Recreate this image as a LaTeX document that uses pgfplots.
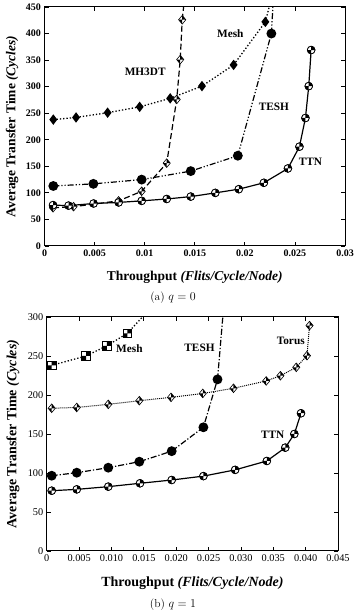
\documentclass[border=0pt]{standalone}
\usepackage{pgfplots}
\pgfplotsset{compat=1.18}
\usepackage{fontspec}
\newfontfamily\tnr{Liberation Serif}

\pgfdeclareplotmark{qcircle}{%
  \pgfpathcircle{\pgfpointorigin}{\pgfplotmarksize}%
  \pgfsetfillcolor{white}\pgfusepathqfillstroke
  \pgfpathmoveto{\pgfpointorigin}\pgfpathlineto{\pgfqpoint{\pgfplotmarksize}{0pt}}%
  \pgfpatharc{0}{90}{\pgfplotmarksize}\pgfpathclose
  \pgfpathmoveto{\pgfpointorigin}\pgfpathlineto{\pgfqpoint{-\pgfplotmarksize}{0pt}}%
  \pgfpatharc{180}{270}{\pgfplotmarksize}\pgfpathclose
  \pgfsetfillcolor{black}\pgfusepathqfill
  \pgfpathcircle{\pgfpointorigin}{\pgfplotmarksize}\pgfusepathqstroke
}
\pgfdeclareplotmark{qsquare}{%
  \pgfpathrectangle{\pgfqpoint{-\pgfplotmarksize}{-\pgfplotmarksize}}{\pgfqpoint{2\pgfplotmarksize}{2\pgfplotmarksize}}%
  \pgfsetfillcolor{white}\pgfusepathqfillstroke
  \pgfpathrectangle{\pgfpointorigin}{\pgfqpoint{\pgfplotmarksize}{\pgfplotmarksize}}%
  \pgfpathrectangle{\pgfqpoint{-\pgfplotmarksize}{-\pgfplotmarksize}}{\pgfqpoint{\pgfplotmarksize}{\pgfplotmarksize}}%
  \pgfsetfillcolor{black}\pgfusepathqfill
  \pgfpathrectangle{\pgfqpoint{-\pgfplotmarksize}{-\pgfplotmarksize}}{\pgfqpoint{2\pgfplotmarksize}{2\pgfplotmarksize}}%
  \pgfusepathqstroke
}
\pgfdeclareplotmark{qdiamond}{%
  \pgfpathmoveto{\pgfqpoint{0pt}{1.2\pgfplotmarksize}}%
  \pgfpathlineto{\pgfqpoint{\pgfplotmarksize}{0pt}}%
  \pgfpathlineto{\pgfqpoint{0pt}{-1.2\pgfplotmarksize}}%
  \pgfpathlineto{\pgfqpoint{-\pgfplotmarksize}{0pt}}\pgfpathclose
  \pgfsetfillcolor{white}\pgfusepathqfillstroke
  \pgfpathmoveto{\pgfpointorigin}\pgfpathlineto{\pgfqpoint{\pgfplotmarksize}{0pt}}%
  \pgfpathlineto{\pgfqpoint{0pt}{1.2\pgfplotmarksize}}\pgfpathclose
  \pgfpathmoveto{\pgfpointorigin}\pgfpathlineto{\pgfqpoint{-\pgfplotmarksize}{0pt}}%
  \pgfpathlineto{\pgfqpoint{0pt}{-1.2\pgfplotmarksize}}\pgfpathclose
  \pgfsetfillcolor{black}\pgfusepathqfill
}

\pgfplotsset{
  common/.style={
    scale only axis, anchor=south west, clip=true,
    tick align=inside, scaled x ticks=false,
    axis line style={line width=1pt},
    every tick/.style={black, line width=0.8pt},
    major tick length=4pt,
    ylabel={\textbf{Average Transfer Time} \textbf{\textit{(Cycles)}}},
    xlabel={\textbf{Throughput} \textbf{\textit{(Flits/Cycle/Node)}}},
  },
}
\tikzset{lab/.style={font=\tnr\bfseries\fontsize{11.3}{12}\selectfont, inner sep=0pt}}

\begin{document}
\begin{tikzpicture}
\begin{axis}[common,
  at={(44.5pt,366pt)}, width=300.5pt, height=239pt,
  xmin=0, xmax=0.03, ymin=0, ymax=450,
  xtick={0,0.005,0.01,0.015,0.02,0.025,0.03},
  xticklabels={0,0.005,0.01,0.015,0.02,0.025,0.03},
  ytick={0,50,100,150,200,250,300,350,400,450},
  yticklabels={0,50,100,150,200,250,300,350,400,450},
  tick label style={font=\tnr\bfseries\fontsize{10}{10}\selectfont},
  label style={font=\tnr\fontsize{13.5}{14}\selectfont},
  xlabel style={at={(axis description cs:0.5,-0.13)}, anchor=center},
  ylabel style={at={(axis description cs:-0.108,0.5)}, anchor=center},
]
% Mesh
\addplot[black, line width=1.3pt, dotted, mark=diamond*, mark size=4.2pt, mark options={solid, fill=black}]
 coordinates {(0.00088,238) (0.00315,242) (0.0063,251) (0.0095,262) (0.01255,278) (0.01572,301) (0.01888,341) (0.02205,422)};
\addplot[black, line width=1.3pt, dotted, forget plot] coordinates {(0.02205,422) (0.0227,470)};
% MH3DT
\addplot[black, line width=1.2pt, dash pattern=on 6pt off 3pt, mark=qdiamond, mark size=3.6pt, mark options={solid, line width=0.6pt}]
 coordinates {(0.00085,72) (0.0029,74) (0.0074,85) (0.0097,103) (0.0122,156) (0.0132,276) (0.01355,351) (0.01375,426)};
\addplot[black, line width=1.2pt, dash pattern=on 6pt off 3pt, forget plot] coordinates {(0.01375,426) (0.0140,470)};
% TESH
\addplot[black, line width=1.2pt, dash pattern=on 6pt off 2pt on 1.2pt off 2pt on 1.2pt off 2pt, mark=*, mark size=4.3pt, mark options={solid, fill=black}]
 coordinates {(0.00088,113) (0.00488,117) (0.0097,125) (0.0146,141) (0.0193,170) (0.02265,400)};
\addplot[black, line width=1.2pt, dash pattern=on 6pt off 2pt on 1.2pt off 2pt on 1.2pt off 2pt, forget plot] coordinates {(0.02265,400) (0.02286,470)};
% TTN
\addplot[black, line width=1.2pt, mark=qcircle, mark size=3.9pt, mark options={solid, line width=0.6pt}]
 coordinates {(0.00085,77) (0.0024,76) (0.0049,80) (0.0074,82) (0.0097,85) (0.0122,88.5) (0.0146,93) (0.01705,100) (0.0194,107) (0.0219,119) (0.0243,146) (0.02545,187) (0.02605,241) (0.02638,301) (0.02662,369)};
\node[lab] at (axis cs:0.01005,328) {MH3DT};
\node[lab] at (axis cs:0.01855,400) {Mesh};
\node[lab] at (axis cs:0.0229,262) {TESH};
\node[lab] at (axis cs:0.02655,159) {TTN};
\end{axis}

\begin{axis}[common,
  at={(46.8pt,61pt)}, width=291.2pt, height=234pt,
  xmin=0, xmax=0.045, ymin=0, ymax=300,
  xtick={0,0.005,0.01,0.015,0.02,0.025,0.03,0.035,0.04,0.045},
  xticklabels={0,0.005,0.010,0.015,0.020,0.025,0.030,0.035,0.040,0.045},
  ytick={0,50,100,150,200,250,300},
  yticklabels={0,50,100,150,200,250,300},
  tick label style={font=\tnr\fontsize{10.3}{10}\selectfont},
  label style={font=\tnr\fontsize{14}{14}\selectfont},
  xlabel style={at={(axis description cs:0.5,-0.137)}, anchor=center},
  ylabel style={at={(axis description cs:-0.116,0.5)}, anchor=center},
]
% Mesh
\addplot[black, line width=1.3pt, dotted, mark=qsquare, mark size=4.3pt, mark options={solid, line width=0.6pt}]
 coordinates {(0.00076,238) (0.00606,250) (0.00927,263) (0.01245,279)};
\addplot[black, line width=1.3pt, dotted, forget plot] coordinates {(0.01245,279) (0.0151,303)};
% Torus
\addplot[black, line width=1pt, densely dotted, mark=qdiamond, mark size=3.6pt, mark options={solid, line width=0.6pt}]
 coordinates {(0.00076,183) (0.00463,184) (0.0095,188) (0.0143,192.7) (0.0192,197) (0.0241,202) (0.02885,208.6) (0.0339,218) (0.0361,224.7) (0.03855,235.5) (0.0402,250.4) (0.0406,289)};
% TESH
\addplot[black, line width=1.2pt, dash pattern=on 6pt off 2pt on 1.2pt off 2pt, mark=*, mark size=4.3pt, mark options={solid, fill=black}]
 coordinates {(0.00076,96.5) (0.00463,100.4) (0.0095,106.8) (0.0143,114.5) (0.0193,128) (0.0242,158.6) (0.02638,220)};
\addplot[black, line width=1.2pt, dash pattern=on 6pt off 2pt on 1.2pt off 2pt, forget plot] coordinates {(0.02638,220) (0.0273,310)};
% TTN
\addplot[black, line width=1.2pt, mark=qcircle, mark size=3.9pt, mark options={solid, line width=0.6pt}]
 coordinates {(0.00076,77.3) (0.00463,79) (0.0095,82.5) (0.0144,86.8) (0.0193,91) (0.0242,96) (0.0291,104) (0.034,115.4) (0.03685,132.5) (0.03825,150) (0.03928,176.6)};
\node[lab] at (axis cs:0.01276,259) {Mesh};
\node[lab] at (axis cs:0.0236,260) {TESH};
\node[lab] at (axis cs:0.0377,269.6) {Torus};
\node[lab] at (axis cs:0.0349,149.6) {TTN};
\end{axis}

\node[font=\fontsize{11.5}{12}\selectfont] at (173pt,314pt) {(a) $q=0$};
\node[font=\fontsize{11.5}{12}\selectfont] at (173pt,7pt) {(b) $q=1$};
\pgfresetboundingbox
\useasboundingbox (0pt,0pt) rectangle (353pt,612pt);
\end{tikzpicture}
\end{document}
